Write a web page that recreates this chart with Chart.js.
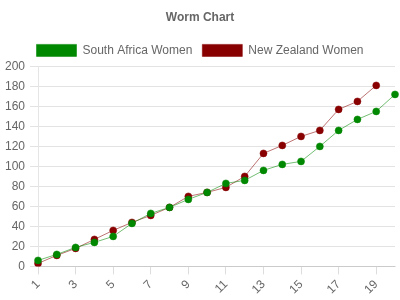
<!DOCTYPE html>
<html>
<head>
<meta charset="utf-8">
<script src="https://cdn.jsdelivr.net/npm/chart.js@4"></script>
<style>
  html, body { margin: 0; padding: 0; background: #fff; }
  .wrap { width: 400px; height: 300px; }
</style>
</head>
<body>
<div class="wrap"><canvas class="js-chart"></canvas></div>
<script>
const overs = ['1', '2', '3', '4', '5', '6', '7', '8', '9', '10', '11', '12', '13', '14', '15', '16', '17', '18', '19', '20'];
const southAfrica = [6, 12, 19, 24, 30, 43, 53, 59, 67, 74, 83, 86, 96, 102, 105, 120, 136, 147, 155, 172];
const newZealand = [3, 11, 18, 27, 36, 44, 51, 59, 70, 74, 79, 90, 113, 121, 130, 136, 157, 165, 181, null];
const yTicks = [0, 20, 40, 60, 80, 100, 120, 140, 160, 180, 200];

Chart.defaults.font.family = '"Liberation Sans", Arial, sans-serif';
Chart.defaults.color = '#666';

const ctx = document.querySelector('.js-chart').getContext('2d');

drawChart(overs, southAfrica, newZealand);

function drawChart(labels, data1, data2) {
  const myChart = new Chart(ctx, {
    type: 'line',
    data: {
      labels: labels,
      datasets: [
        {
          label: 'South Africa Women',
          data: data1,
          backgroundColor: '#008800',
          borderColor: 'rgba(0,136,0,0.55)',
          pointBackgroundColor: '#008800',
          pointBorderColor: 'rgba(0,136,0,0.5)',
          borderWidth: 1,
          pointRadius: 3.5,
          fill: false,
          tension: 0,
        },
        {
          label: 'New Zealand Women',
          data: data2,
          backgroundColor: '#880000',
          borderColor: 'rgba(136,0,0,0.55)',
          pointBackgroundColor: '#880000',
          pointBorderColor: 'rgba(136,0,0,0.5)',
          borderWidth: 1,
          pointRadius: 3.5,
          fill: false,
          tension: 0,
        },
      ],
    },
    options: {
      responsive: true,
      maintainAspectRatio: false,
      animation: false,
      plugins: {
        title: {
          display: true,
          text: 'Worm Chart',
          font: { size: 12, weight: 'bold' },
        },
        legend: {
          labels: { font: { size: 12 }, boxWidth: 40 },
        },
        tooltip: { enabled: false },
      },
      scales: {
        x: {
          grid: { drawOnChartArea: false, color: '#ddd' },
          ticks: { minRotation: 45, maxRotation: 45, autoSkip: true },
        },
        y: {
          min: yTicks[0],
          max: yTicks[yTicks.length - 1],
          grid: { color: '#e3e3e3' },
          ticks: { stepSize: 20, padding: 5 },
        },
      },
    },
  });
}
</script>
</body>
</html>
